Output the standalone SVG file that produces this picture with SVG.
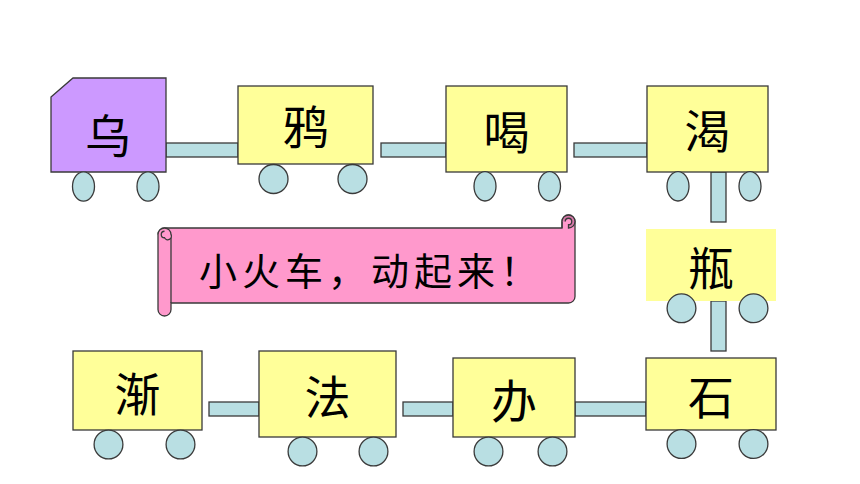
<svg xmlns="http://www.w3.org/2000/svg" width="860" height="484" viewBox="0 0 860 484">
<style>
.car{fill:#FFFF99;stroke:#3a3a3a;stroke-width:1.3}
.eng{fill:#CC99FF;stroke:#3a3a3a;stroke-width:1.3}
.wh{fill:#B9DFE3;stroke:#3a3a3a;stroke-width:1.3}
.cn{fill:#B9DFE3;stroke:#3a3a3a;stroke-width:1.3}
.lbl{font-family:"Noto Sans CJK SC","Noto Sans CJK TC",sans-serif;font-size:46px;fill:#000;text-anchor:middle;dominant-baseline:central}
.ban{fill:#FF99CC;stroke:#3a3a3a;stroke-width:1.3}
.curl{fill:#D97AAB;stroke:#3a3a3a;stroke-width:1.3}
.bt{font-family:"Noto Sans CJK SC","Noto Sans CJK TC",sans-serif;font-size:38px;fill:#000;dominant-baseline:central;letter-spacing:5px}
</style>
<rect width="860" height="484" fill="#fff"/>
<g id="connectors">
<rect class="cn" x="166" y="143" width="72" height="14"/>
<rect class="cn" x="381" y="143" width="65" height="14"/>
<rect class="cn" x="574" y="143" width="73" height="14"/>
<rect class="cn" x="711" y="172" width="15" height="50"/>
<rect class="cn" x="711" y="301" width="15" height="50"/>
<rect class="cn" x="575" y="402" width="71" height="14"/>
<rect class="cn" x="403" y="402" width="50" height="14"/>
<rect class="cn" x="209" y="402" width="50" height="14"/>
</g>
<g id="engine-wu">
<path class="eng" d="M51 97 L73 78 L166 78 L166 172 L51 172 Z"/>
<ellipse class="wh" cx="83.5" cy="186.5" rx="11" ry="14.7"/>
<ellipse class="wh" cx="148" cy="186.5" rx="11" ry="14.7"/>
<text class="lbl" x="108" y="133">乌</text>
</g>
<g id="car-ya">
<rect class="car" x="238" y="86" width="135" height="78"/>
<circle class="wh" cx="273.5" cy="179" r="14.5"/>
<circle class="wh" cx="352.5" cy="179" r="14.5"/>
<text class="lbl" x="305.5" y="124">鸦</text>
</g>
<g id="car-he">
<rect class="car" x="446" y="86" width="121" height="86"/>
<ellipse class="wh" cx="485" cy="186.3" rx="11" ry="14.7"/>
<ellipse class="wh" cx="549.5" cy="186.3" rx="11" ry="14.7"/>
<text class="lbl" x="506.5" y="129">喝</text>
</g>
<g id="car-ke">
<rect class="car" x="647" y="86" width="121" height="86"/>
<ellipse class="wh" cx="678" cy="186.3" rx="11" ry="14.7"/>
<ellipse class="wh" cx="750" cy="186.3" rx="11" ry="14.7"/>
<text class="lbl" x="707.5" y="128">渴</text>
</g>
<g id="car-ping">
<rect x="646" y="229" width="130" height="72" fill="#FFFF99"/>
<circle class="wh" cx="681.5" cy="308.3" r="14.4"/>
<circle class="wh" cx="753.5" cy="308.3" r="14.4"/>
<text class="lbl" x="711" y="265">瓶</text>
</g>
<g id="car-shi">
<rect class="car" x="646" y="358" width="130" height="72"/>
<circle class="wh" cx="681.5" cy="444" r="14.4"/>
<circle class="wh" cx="753.5" cy="444" r="14.4"/>
<text class="lbl" x="711" y="394">石</text>
</g>
<g id="car-ban">
<rect class="car" x="453" y="358" width="122" height="79"/>
<circle class="wh" cx="488.5" cy="451.5" r="14.4"/>
<circle class="wh" cx="552.5" cy="451.5" r="14.4"/>
<text class="lbl" x="514" y="397.5">办</text>
</g>
<g id="car-fa">
<rect class="car" x="259" y="351" width="137" height="86"/>
<circle class="wh" cx="302.5" cy="451.5" r="14.4"/>
<circle class="wh" cx="373.5" cy="451.5" r="14.4"/>
<text class="lbl" x="327.5" y="394">法</text>
</g>
<g id="car-jian">
<rect class="car" x="73" y="351" width="129" height="79"/>
<circle class="wh" cx="108.5" cy="444.5" r="14.4"/>
<circle class="wh" cx="180.5" cy="444.5" r="14.4"/>
<text class="lbl" x="137.5" y="390.5">渐</text>
</g>
<g id="banner">
<path class="ban" d="M164.5 228 L562 228 L562 221.5 A6.5 6.5 0 0 1 575 221.5 L575 296.5 A6.5 6.5 0 0 1 568.5 303 L171 303 L171 309.5 A6.5 6.5 0 0 1 158 309.5 L158 234.5 A6.5 6.5 0 0 1 164.5 228 Z"/>
<line x1="171" y1="234.5" x2="171" y2="303" stroke="#3a3a3a" stroke-width="1.3"/>
<path class="ban" d="M158 234.5 A6.5 6.5 0 0 1 171 234.5 A3.25 3.25 0 0 1 164.5 237.75 A3.25 3.25 0 0 1 164.5 231.25"/>
<path class="curl" d="M562 221.5 A6.5 6.5 0 0 1 575 221.5 A6.5 6.5 0 0 1 568.5 228 L568.5 224.75 A3.25 3.25 0 0 0 568.5 218.25 A3.25 3.25 0 0 0 565.25 221.5"/>
<line x1="562" y1="221.5" x2="562" y2="228" stroke="#3a3a3a" stroke-width="1.3"/>
<text class="bt" x="199" y="268">小火车，动起来！</text>
</g>
</svg>
